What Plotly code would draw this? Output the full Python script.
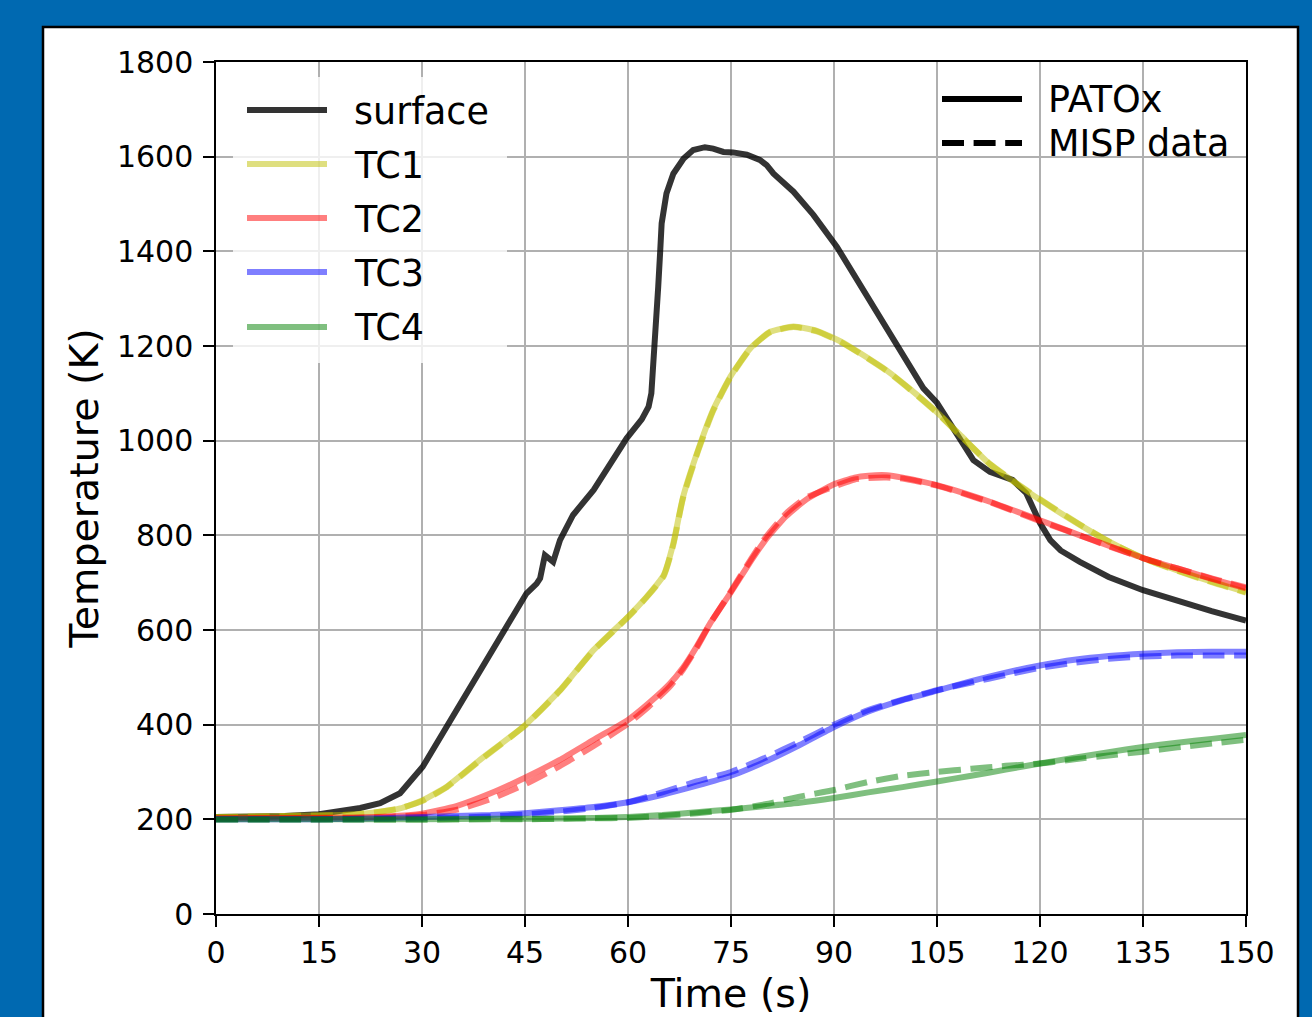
import plotly.graph_objects as go

# ---------------- data ----------------
t_surface = [0, 5, 10, 15, 18, 21, 23.9, 26.8, 30.1, 33.6, 38.4, 40.9, 45.2, 46.7, 47.2, 47.9, 49.1, 50.1,
             52, 55, 58.1, 59.8, 62, 63, 63.4, 63.9, 64.4, 64.7, 64.9, 65.6, 66.6, 68.1, 69.5, 71.2, 72.4,
             73.9, 75.3, 77.3, 79.2, 80.2, 81.2, 84.1, 87, 90.4, 95, 100.3, 103, 105, 108.3, 110.3, 112.7,
             116, 118, 120, 121.5, 123, 125.8, 130, 135, 140, 145, 150]
T_surface = [205, 205, 207, 211, 216, 224, 234, 255, 311, 396, 508, 572, 677, 698, 709, 758, 744, 790,
             843, 896, 970, 1005, 1045, 1072, 1100, 1198, 1325, 1403, 1459, 1522, 1564, 1596, 1614, 1620, 1617,
             1610, 1609, 1604, 1593, 1582, 1564, 1526, 1477, 1410, 1300, 1170, 1111, 1080, 1001, 959, 934,
             917, 889, 826, 790, 768, 744, 712, 684, 661, 640, 620]

t_tc1 = [0, 10, 20, 23.9, 26.8, 30.2, 33.6, 38.4, 45, 50.1, 55, 60, 62.7, 65.2, 66.6, 68, 70.2, 72.4, 74.9,
         77.8, 80.7, 84.1, 87.5, 90.9, 94, 97.7, 101, 105, 108.3, 112.7, 116, 120, 125.8, 130, 135, 140, 145, 150]
T_tc1_patox = [205, 207, 210, 216, 223, 241, 269, 325, 399, 473, 558, 628, 670, 716, 783, 880, 980, 1065, 1135,
               1195, 1230, 1241, 1232, 1210, 1183, 1148, 1110, 1060, 1013, 950, 915, 875, 822, 787, 752, 726, 702, 680]
T_tc1_misp = [205, 207, 210, 216, 223, 240, 268, 324, 398, 472, 557, 627, 669, 714, 780, 878, 978, 1063, 1133,
              1194, 1229, 1240, 1231, 1209, 1182, 1147, 1109, 1059, 1012, 951, 916, 876, 823, 787, 752, 725, 701, 679]

t_tc2 = [0, 10, 20, 25, 30, 35, 40, 45, 50, 55, 60, 63, 66, 68, 70, 72, 75, 78, 80, 83, 86, 90, 93, 95, 97.7,
         100, 105, 112.7, 120, 125.8, 130, 135, 140, 145, 150]
T_tc2_patox = [202, 203, 204, 206, 212, 228, 255, 288, 325, 368, 410, 445, 485, 520, 565, 615, 680, 748, 790,
               840, 876, 908, 922, 926, 927, 922, 906, 871, 832, 800, 778, 752, 730, 708, 688]
T_tc2_misp = [202, 202, 203, 205, 209, 220, 243, 274, 312, 355, 402, 438, 479, 516, 562, 614, 682, 752, 795,
              846, 880, 903, 918, 921, 922, 920, 905, 870, 830, 800, 777, 752, 730, 709, 690]

t_tc34 = [0, 10, 20, 30, 40, 45, 50, 55, 60, 65, 70, 75, 80, 85, 90, 95, 100, 105, 110, 115, 120, 125, 130,
          135, 140, 145, 150]
T_tc3_patox = [200, 200, 201, 205, 209, 213, 219, 226, 236, 252, 271, 292, 322, 357, 395, 428, 452, 472, 492,
               510, 525, 537, 545, 550, 553, 554, 554]
T_tc3_misp = [200, 200, 200, 202, 206, 210, 216, 224, 236, 257, 280, 300, 330, 364, 400, 431, 453, 473, 489,
              505, 520, 531, 539, 544, 546, 546, 546]
T_tc4_patox = [200, 200, 200, 200, 201, 201, 202, 203, 205, 209, 215, 221, 228, 235, 245, 257, 268, 280, 292,
               305, 318, 330, 342, 353, 362, 370, 378]
T_tc4_misp = [199, 199, 199, 199, 200, 200, 201, 202, 203, 207, 213, 220, 232, 248, 262, 279, 292, 300, 307,
              313, 318, 327, 335, 343, 352, 360, 368]

series_names = ["surface", "TC1", "TC2", "TC3", "TC4"]
series_colors = ["rgba(0,0,0,0.8)", "rgba(191,191,0,0.5)", "rgba(255,0,0,0.5)",
                 "rgba(0,0,255,0.5)", "rgba(0,128,0,0.5)"]
style_names = ["PATOx", "MISP data"]

x_ticks = [0, 15, 30, 45, 60, 75, 90, 105, 120, 135, 150]
y_ticks = [0, 200, 400, 600, 800, 1000, 1200, 1400, 1600, 1800]

# ---------------- figure ----------------
W, H = 1312, 1017
L, R, T, B = 216, 1312 - 1246, 62, 1017 - 914
PW, PH = W - L - R, H - T - B
FONT = "DejaVu Sans"
LW = 6
DASH = "22px,9.6px"


def px(xp):
    return (xp - L) / PW


def py(yp):
    return (H - B - yp) / PH


fig = go.Figure()

curves = [
    (t_surface, T_surface, 0, "solid"),
    (t_tc1, T_tc1_patox, 1, "solid"),
    (t_tc1, T_tc1_misp, 1, DASH),
    (t_tc2, T_tc2_patox, 2, "solid"),
    (t_tc2, T_tc2_misp, 2, DASH),
    (t_tc34, T_tc3_patox, 3, "solid"),
    (t_tc34, T_tc3_misp, 3, DASH),
    (t_tc34, T_tc4_patox, 4, "solid"),
    (t_tc34, T_tc4_misp, 4, DASH),
]
for xs, ys, ci, dash in curves:
    fig.add_trace(go.Scatter(
        x=xs, y=ys, mode="lines", showlegend=False, hoverinfo="skip",
        line=dict(color=series_colors[ci], width=LW, dash=dash,
                  shape="linear" if ci == 0 else "spline", smoothing=0.5),
    ))

shapes = []
annotations = []
# white panel with black border on blue background
shapes.append(dict(type="rect", xref="paper", yref="paper", layer="below",
                   x0=px(43), x1=px(1298), y0=py(1100), y1=py(27),
                   fillcolor="white", line=dict(color="black", width=2.5)))

# left legend (series)
shapes.append(dict(type="rect", xref="paper", yref="paper", layer="above",
                   x0=px(233), x1=px(507), y0=py(363), y1=py(77),
                   fillcolor="rgba(255,255,255,0.8)", line=dict(width=0)))
rows = [110, 164, 218, 272, 327]
for name, col, yr in zip(series_names, series_colors, rows):
    shapes.append(dict(type="line", xref="paper", yref="paper", layer="above",
                       x0=px(247), x1=px(327), y0=py(yr), y1=py(yr),
                       line=dict(color=col, width=LW)))
    annotations.append(dict(xref="paper", yref="paper", x=px(352), y=py(yr + 1),
                            text=name, showarrow=False, xanchor="left", yanchor="middle",
                            font=dict(family=FONT, size=36.5, color="black")))

# right legend (line styles)
rows2 = [99, 143]
for name, dash, yr in zip(style_names, ["solid", DASH], rows2):
    shapes.append(dict(type="line", xref="paper", yref="paper", layer="above",
                       x0=px(942), x1=px(1022), y0=py(yr), y1=py(yr),
                       line=dict(color="black", width=LW, dash=dash)))
    annotations.append(dict(xref="paper", yref="paper", x=px(1046), y=py(yr + 1),
                            text=name, showarrow=False, xanchor="left", yanchor="middle",
                            font=dict(family=FONT, size=36.5, color="black")))

axis_common = dict(
    showline=True, linecolor="black", linewidth=2.4, mirror=True,
    showgrid=True, gridcolor="#b0b0b0", gridwidth=2.4, zeroline=False,
    ticks="outside", ticklen=10.5, tickwidth=2.4, tickcolor="black",
    tickfont=dict(family=FONT, size=30, color="black"),
)

fig.update_layout(
    width=W, height=H,
    margin=dict(l=L, r=R, t=T, b=B, pad=0),
    paper_bgcolor="#0069b1", plot_bgcolor="white",
    font=dict(family=FONT, color="black"),
    xaxis=dict(range=[0, 150], tickvals=x_ticks, ticktext=[str(v) for v in x_ticks],
               title=dict(text="Time (s)", font=dict(family=FONT, size=39.5), standoff=8),
               automargin=False, **axis_common),
    yaxis=dict(range=[0, 1800], tickvals=y_ticks, ticktext=[str(v) for v in y_ticks],
               title=dict(text="Temperature (K)", font=dict(family=FONT, size=39.5), standoff=6),
               ticklabelstandoff=4,
               automargin=False, **axis_common),
    shapes=shapes, annotations=annotations, showlegend=False,
)

fig.write_html("out.html", config={"displayModeBar": False, "responsive": False})
